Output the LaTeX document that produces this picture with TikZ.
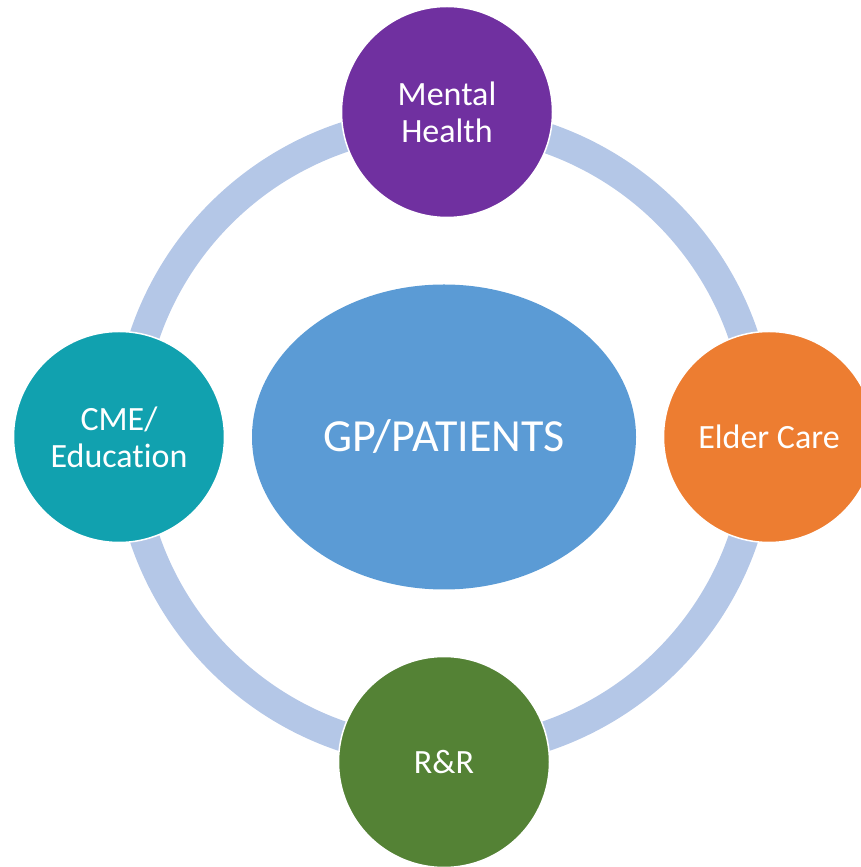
\documentclass[tikz,border=0pt]{standalone}
\usepackage{fontspec}
\setmainfont{Carlito}[Ligatures=NoCommon]
\usetikzlibrary{shapes.geometric}

\definecolor{ringblue}{HTML}{B4C7E7}
\definecolor{hubblue}{HTML}{5B9BD5}
\definecolor{mhpurple}{HTML}{7030A0}
\definecolor{eccorange}{HTML}{ED7D31}
\definecolor{cmeteal}{HTML}{11A1AF}
\definecolor{rrgreen}{HTML}{548235}

\tikzset{
  spoke/.style={circle, minimum size=211pt, inner sep=0pt, draw=white,
    line width=1.5pt, text=white, align=center,
    font=\fontsize{34}{37}\selectfont},
  hub/.style={ellipse, fill=hubblue, minimum width=384pt, minimum height=305pt,
    inner sep=0pt, text=white, font=\fontsize{46}{50}\selectfont},
  ringline/.style={draw=ringblue, line width=30pt}
}

\begin{document}
\begin{tikzpicture}[x=1pt,y=1pt]
  \useasboundingbox (0,0) rectangle (860,867);

  % ring behind everything
  \coordinate (ringc) at (444,430);
  \draw[ringline] (ringc) circle[radius=316];

  \node[hub] (gp) at (ringc) {GP/PATIENTS};

  % outer circles
  \node[spoke, fill=mhpurple]  (mental) at (447,755) {Mental\\Health};
  \node[spoke, fill=eccorange] (elder)  at (769,430) {Elder Care};
  \node[spoke, fill=rrgreen]   (rr)     at (444,105) {R\&R};
  \node[spoke, fill=cmeteal]   (cme)    at (119,430) {CME/\\Education};
\end{tikzpicture}
\end{document}
